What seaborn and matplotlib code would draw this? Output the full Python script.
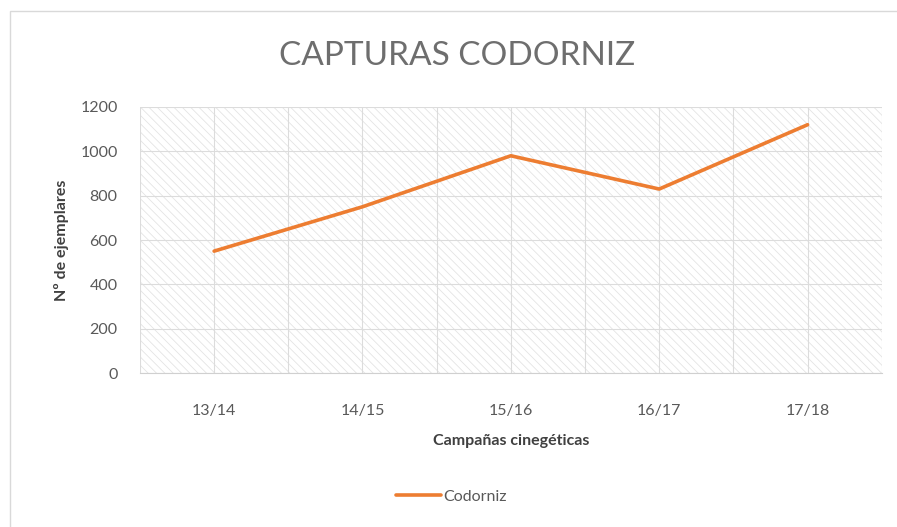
import seaborn as sns
import matplotlib.pyplot as plt
import matplotlib.patches as mpatches
import pandas as pd

# datos de la grafica
campanas = ["13/14", "14/15", "15/16", "16/17", "17/18"]
capturas = [550, 750, 980, 830, 1120]
serie = "Codorniz"

df = pd.DataFrame({"campana": campanas, "capturas": capturas, "serie": serie})

sns.set_style("white")
plt.rcParams["font.family"] = ["Lato", "DejaVu Sans"]
plt.rcParams["hatch.color"] = "#e4e4e4"
plt.rcParams["hatch.linewidth"] = 0.6

fig = plt.figure(figsize=(8.97, 5.27), dpi=100)
ax = fig.add_axes([0.156, 0.292, 0.827, 0.505])

# fondo rayado del area de trazado
ax.add_patch(mpatches.Rectangle((0, 0), 1, 1, transform=ax.transAxes, facecolor="white",
                                edgecolor="#e4e4e4", hatch="\\\\\\\\", lw=0, zorder=0))

sns.lineplot(x="campana", y="capturas", hue="serie", data=df, palette=["#ED7D31"],
             linewidth=2.6, ax=ax, sort=False, zorder=3)

ax.set_xlim(-0.5, len(campanas) - 0.5)
ax.set_ylim(0, 1200)
ax.set_yticks(range(0, 1201, 200))
ax.set_xticks(range(len(campanas)))
ax.set_xticks([i - 0.5 for i in range(len(campanas) + 1)], minor=True)

ax.grid(True, which="major", color="#dcdcdc", lw=0.8, zorder=1)
ax.grid(True, which="minor", axis="x", color="#dcdcdc", lw=0.8, zorder=1)
for s in ["top", "right", "left"]:
    ax.spines[s].set_visible(False)
ax.spines["bottom"].set_color("#d0d0d0")
ax.tick_params(axis="both", which="both", length=0, labelsize=11.5, colors="#595959")
ax.tick_params(axis="x", pad=22)
ax.tick_params(axis="y", pad=16)

ax.set_xlabel("Campañas cinegéticas", fontsize=11.5, fontweight="bold", color="#404040", labelpad=12)
ax.set_ylabel("Nº de ejemplares", fontsize=11.5, fontweight="bold", color="#404040", labelpad=8)

fig.text(0.51, 0.893, "CAPTURAS CODORNIZ", ha="center", va="center", fontsize=24,
         color="#6e6e6e")

ax.legend(loc="center", bbox_to_anchor=(0.42, -0.465), frameon=False, fontsize=11.5,
          handlelength=2.8, labelcolor="#595959", handletextpad=0.2)

# marco del grafico
fig.add_artist(mpatches.Rectangle((0.011, -0.02), 1.0, 1.0, transform=fig.transFigure,
                                  fill=False, edgecolor="#d9d9d9", lw=1))

fig.savefig("out.png", dpi=100)
